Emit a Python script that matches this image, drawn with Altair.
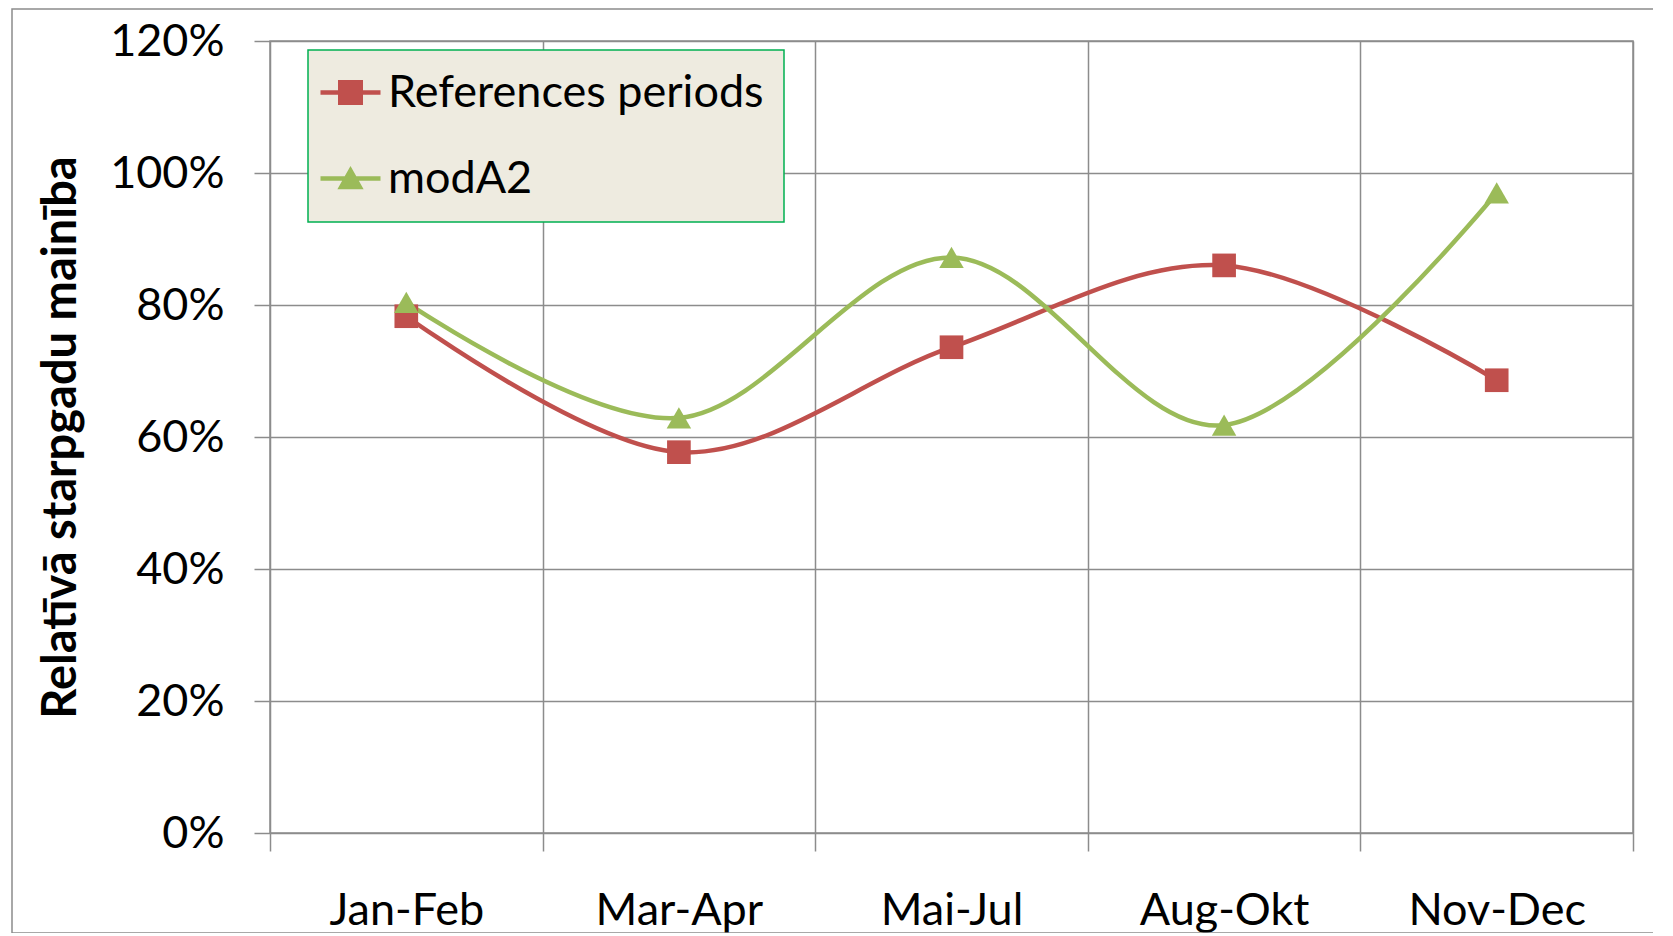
import altair as alt
import pandas as pd

categories = ["Jan-Feb", "Mar-Apr", "Mai-Jul", "Aug-Okt", "Nov-Dec"]
series_names = ["References periods", "modA2"]
ref_values = [0.783, 0.577, 0.736, 0.860, 0.686]
mod_values = [0.804, 0.629, 0.872, 0.618, 0.970]
y_ticks = [0, 0.2, 0.4, 0.6, 0.8, 1.0, 1.2]

colors = ["#C0504D", "#9BBB59"]
marker_shapes = ["square", "triangle-up"]
legend_shapes = [
    "M-2.4,-0.18H2.4V0.18H-2.4Z M-1,-1H1V1H-1Z",
    "M-2.4,-0.18H2.4V0.18H-2.4Z M0,-1L1.05,0.85H-1.05Z",
]

rows = []
for c, v in zip(categories, ref_values):
    rows.append({"period": c, "value": v, "series": series_names[0]})
for c, v in zip(categories, mod_values):
    rows.append({"period": c, "value": v, "series": series_names[1]})
df = pd.DataFrame(rows)

FONT = "Lato"
GRID = "#8c8c8c"

x_enc = alt.X(
    "period:N",
    sort=categories,
    bandPosition=0.5,
    scale=alt.Scale(type="band", domain=categories, paddingInner=0, paddingOuter=0),
    axis=alt.Axis(
        title=None,
        tickBand="extent",
        grid=True,
        gridColor=GRID,
        gridWidth=1.5,
        ticks=True,
        tickColor=GRID,
        tickWidth=1.5,
        tickSize=18,
        domain=False,
        labelAngle=0,
        labelFont=FONT,
        labelFontSize=45,
        labelColor="#000000",
        labelPadding=37,
        labelBaseline="top",
    ),
)
y_enc = alt.Y(
    "value:Q",
    scale=alt.Scale(domain=[0, 1.2], nice=False, zero=True),
    axis=alt.Axis(
        title="Relatīvā starpgadu mainība",
        values=y_ticks,
        format=".0%",
        grid=True,
        gridColor=GRID,
        gridWidth=1.5,
        ticks=True,
        tickColor=GRID,
        tickWidth=1.5,
        tickSize=16,
        domain=False,
        labelFont=FONT,
        labelFontSize=45,
        labelColor="#000000",
        labelPadding=30,
        titleFont=FONT,
        titleFontSize=47,
        titleFontWeight="bold",
        titleColor="#000000",
        titleAngle=270,
        titleX=-209,
        titleY=396,
        titleAlign="center",
        titleBaseline="middle",
    ),
)

color_nolegend = alt.Color(
    "series:N", scale=alt.Scale(domain=series_names, range=colors), legend=None
)

legend_opts = dict(
    title=None,
    orient="none",
    legendX=38,
    legendY=9,
    fillColor="#EEEBE0",
    strokeColor="#00B050",
    padding=20,
    rowPadding=40,
    symbolSize=625,
    symbolStrokeWidth=0,
    symbolOpacity=1,
    labelFont=FONT,
    labelFontSize=45,
    labelColor="#000000",
    labelOffset=15,
    labelLimit=1000,
)

frame = (
    alt.Chart(alt.Data(values=[{"a": 1}]))
    .mark_rect(fillOpacity=0, stroke=GRID, strokeWidth=1.5)
    .encode(
        x=alt.value(-258),
        x2=alt.value(1420),
        y=alt.value(-32),
        y2=alt.value(892),
    )
)

lines = (
    alt.Chart(df)
    .mark_line(interpolate="cardinal", strokeWidth=4.5)
    .encode(x=x_enc, y=y_enc, color=color_nolegend, detail="series:N")
)

points = (
    alt.Chart(df)
    .mark_point(filled=True, opacity=1, strokeWidth=0)
    .encode(
        x=x_enc,
        y=y_enc,
        color=color_nolegend,
        shape=alt.Shape(
            "series:N",
            scale=alt.Scale(domain=series_names, range=marker_shapes),
            legend=None,
        ),
        size=alt.Size(
            "series:N",
            scale=alt.Scale(domain=series_names, range=[560, 600]),
            legend=None,
        ),
    )
)

legend_layer = (
    alt.Chart(df)
    .transform_filter("false")
    .mark_point(filled=True, opacity=1, strokeWidth=0)
    .encode(
        x=x_enc,
        y=y_enc,
        color=alt.Color(
            "series:N",
            scale=alt.Scale(domain=series_names, range=colors),
            legend=alt.Legend(**legend_opts),
        ),
        shape=alt.Shape(
            "series:N",
            scale=alt.Scale(domain=series_names, range=legend_shapes),
            legend=alt.Legend(**legend_opts),
        ),
    )
)

chart = (
    alt.layer(frame, lines, points, legend_layer)
    .resolve_scale(color="independent", shape="independent", size="independent")
    .properties(
        width=1363,
        height=792,
        autosize=alt.AutoSizeParams(type="none"),
        padding={"left": 262, "top": 33, "right": 20, "bottom": 100},
        background="#ffffff",
    )
    .configure_view(stroke=GRID, strokeWidth=1.5)
    .configure_legend(strokeWidth=1.5)
)

chart.save("out.html", embed_options={"renderer": "svg", "actions": False})
